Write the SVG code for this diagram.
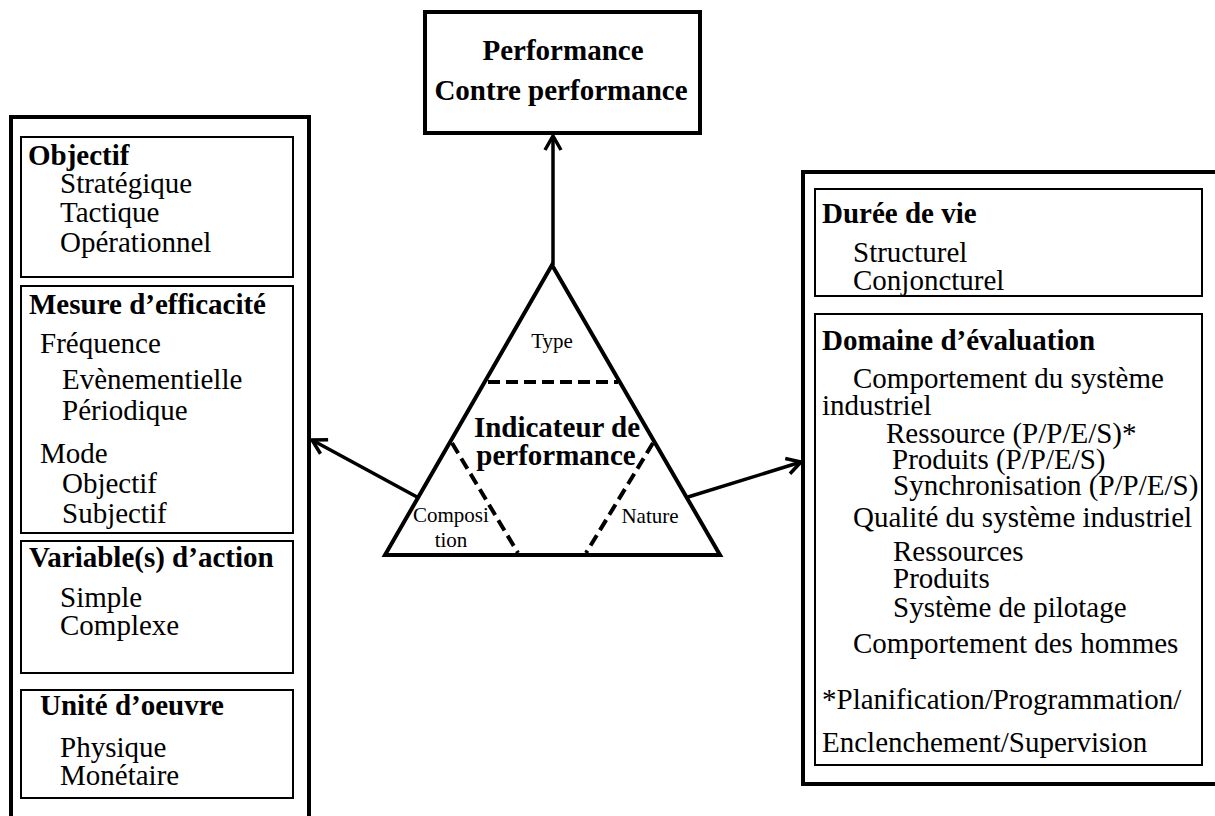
<svg xmlns="http://www.w3.org/2000/svg" width="1215" height="816" viewBox="0 0 1215 816">
<defs>
<style>
text{font-family:"Liberation Serif","Times New Roman",serif;fill:#000}
.t{font-size:29px}
.b{font-size:29px;font-weight:bold}
.s{font-size:21px}
.outer{fill:none;stroke:#000;stroke-width:4}
.inner{fill:none;stroke:#000;stroke-width:2}
.con{fill:none;stroke:#000;stroke-width:3.5}
.dash{fill:none;stroke:#000;stroke-width:4;stroke-dasharray:12,6}
</style>
<marker id="arr" viewBox="0 0 20 20" refX="18" refY="10" markerWidth="20" markerHeight="20" markerUnits="userSpaceOnUse" orient="auto">
<path d="M4,2 L18,10 L4,18" fill="none" stroke="#000" stroke-width="3.5"/>
</marker>
</defs>
<rect width="1215" height="816" fill="#fff"/>

<g id="top-box">
<rect x="425" y="12" width="275" height="121" class="outer" stroke-width="3"/>
<text x="563" y="60" class="b" text-anchor="middle">Performance</text>
<text x="561" y="100" class="b" text-anchor="middle">Contre performance</text>
</g>

<g id="left-panel">
<path d="M11,830 L11,117 L309,117 L309,830" class="outer"/>
<g id="objectif">
<rect x="21" y="137" width="272" height="140" class="inner"/>
<text x="28" y="165" class="b">Objectif</text>
<text x="60" y="193" class="t">Stratégique</text>
<text x="60" y="222" class="t">Tactique</text>
<text x="60" y="252" class="t">Opérationnel</text>
</g>
<g id="mesure">
<rect x="21" y="286" width="272" height="247" class="inner"/>
<text x="29" y="314" class="b">Mesure d’efficacité</text>
<text x="40" y="353" class="t">Fréquence</text>
<text x="62" y="389" class="t">Evènementielle</text>
<text x="62" y="420" class="t">Périodique</text>
<text x="40" y="463" class="t">Mode</text>
<text x="62" y="493" class="t">Objectif</text>
<text x="62" y="523" class="t">Subjectif</text>
</g>
<g id="variable">
<rect x="21" y="541" width="272" height="132" class="inner"/>
<text x="29" y="567" class="b">Variable(s) d’action</text>
<text x="60" y="607" class="t">Simple</text>
<text x="60" y="635" class="t">Complexe</text>
</g>
<g id="unite">
<rect x="21" y="690" width="272" height="108" class="inner"/>
<text x="40" y="715" class="b">Unité d’oeuvre</text>
<text x="60" y="757" class="t">Physique</text>
<text x="60" y="785" class="t">Monétaire</text>
</g>
</g>

<g id="triangle">
<path d="M552,265 L720,555 L385,555 Z" fill="none" stroke="#000" stroke-width="4" stroke-linejoin="miter"/>
<line x1="488" y1="382" x2="618" y2="382" class="dash"/>
<line x1="452" y1="443" x2="518" y2="553" class="dash"/>
<line x1="653" y1="443" x2="586" y2="553" class="dash"/>
<text x="552" y="348" class="s" text-anchor="middle">Type</text>
<text x="557" y="437" class="b" font-size="28" text-anchor="middle">Indicateur de</text>
<text x="556" y="465" class="b" font-size="28" text-anchor="middle">performance</text>
<text x="413" y="522" class="s">Composi</text>
<text x="451" y="547" class="s" text-anchor="middle">tion</text>
<text x="650" y="523" class="s" text-anchor="middle">Nature</text>
</g>

<g id="right-panel">
<path d="M1230,172 L803,172 L803,784 L1230,784" class="outer"/>
<g id="duree">
<rect x="815" y="189" width="387" height="107" class="inner"/>
<text x="822" y="223" class="b">Durée de vie</text>
<text x="853" y="262" class="t">Structurel</text>
<text x="853" y="290" class="t">Conjoncturel</text>
</g>
<g id="domaine">
<rect x="815" y="314" width="387" height="451" class="inner"/>
<text x="822" y="350" class="b">Domaine d’évaluation</text>
<text x="853" y="388" class="t">Comportement du système</text>
<text x="822" y="415" class="t">industriel</text>
<text x="886" y="443" class="t">Ressource (P/P/E/S)*</text>
<text x="892" y="469" class="t">Produits (P/P/E/S)</text>
<text x="893" y="495" class="t">Synchronisation (P/P/E/S)</text>
<text x="853" y="527" class="t">Qualité du système industriel</text>
<text x="893" y="561" class="t">Ressources</text>
<text x="893" y="588" class="t">Produits</text>
<text x="893" y="617" class="t">Système de pilotage</text>
<text x="853" y="653" class="t">Comportement des hommes</text>
<text x="822" y="709" class="t">*Planification/Programmation/</text>
<text x="822" y="752" class="t">Enclenchement/Supervision</text>
</g>
</g>

<g id="connectors">
<line x1="553" y1="265" x2="553" y2="136" class="con" marker-end="url(#arr)"/>
<line x1="417" y1="497" x2="312" y2="440" class="con" marker-end="url(#arr)"/>
<line x1="688" y1="497" x2="801" y2="462" class="con" marker-end="url(#arr)"/>
</g>
</svg>
